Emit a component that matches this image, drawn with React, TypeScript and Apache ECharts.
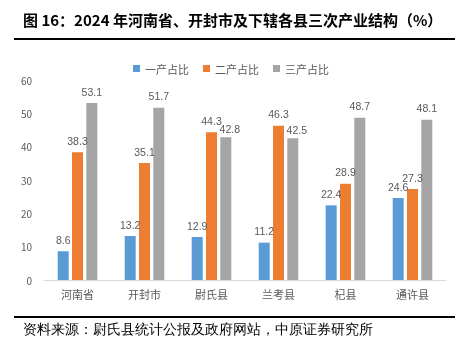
import React, { useEffect, useRef } from "react";
import * as echarts from "echarts";

const categories = ["河南省", "开封市", "尉氏县", "兰考县", "杞县", "通许县"];
const primary = [8.6, 13.2, 12.9, 11.2, 22.4, 24.6];
const secondary = [38.3, 35.1, 44.3, 46.3, 28.9, 27.3];
const tertiary = [53.1, 51.7, 42.8, 42.5, 48.7, 48.1];
const seriesNames = ["一产占比", "二产占比", "三产占比"];
const titleText = "图 16：2024 年河南省、开封市及下辖各县三次产业结构（%）";
const sourceText = "资料来源：尉氏县统计公报及政府网站，中原证券研究所";

export default function App() {
  const ref = useRef<HTMLDivElement>(null);
  useEffect(() => {
    const chart = echarts.init(ref.current!, null, { renderer: "svg" });
    const label = {
      show: true,
      position: "top",
      color: "#595959",
      fontSize: 10.5,
      fontFamily: "Liberation Sans",
      distance: 6,
    };
    const mk = (name: string, data: any[], color: string) => ({
      name,
      type: "bar",
      data,
      barWidth: 11,
      barGap: "30%",
      itemStyle: { color },
      label,
    });
    // Excel nudges crowded labels: shift tertiary labels right where they meet the secondary ones
    const tertiaryItems = tertiary.map((v, i) =>
      Math.abs(v - secondary[i]) < 6
        ? { value: v, label: { offset: [4, 3] } }
        : v
    );
    chart.setOption({
      animation: false,
      textStyle: { fontFamily: "Noto Sans CJK SC" },
      legend: {
        data: seriesNames,
        top: 58,
        left: "center",
        itemWidth: 7,
        itemHeight: 7,
        itemGap: 14,
        icon: "rect",
        textStyle: { color: "#595959", fontSize: 11, fontFamily: "Noto Sans CJK SC" },
      },
      grid: { left: 44, right: 16, top: 80, bottom: 70, containLabel: false },
      xAxis: {
        type: "category",
        data: categories,
        axisLine: { lineStyle: { color: "#d9d9d9" } },
        axisTick: { show: false },
        axisLabel: { color: "#595959", fontSize: 11, margin: 8 },
      },
      yAxis: {
        type: "value",
        min: 0,
        max: 60,
        interval: 10,
        axisLine: { show: false },
        axisTick: { show: false },
        splitLine: { show: false },
        axisLabel: { color: "#595959", fontSize: 10, margin: 12 },
      },
      series: [
        mk(seriesNames[0], primary, "#5B9BD5"),
        mk(seriesNames[1], secondary, "#ED7D31"),
        mk(seriesNames[2], tertiaryItems, "#A5A5A5"),
      ],
      graphic: [
        {
          type: "text",
          left: 23,
          top: 12,
          style: {
            text: titleText,
            fontSize: 15,
            fontWeight: "bold",
            fill: "#000",
            fontFamily: "Noto Sans CJK SC",
          },
        },
        {
          type: "line",
          shape: { x1: 14, y1: 39, x2: 455, y2: 39 },
          style: { stroke: "#000", lineWidth: 2 },
        },
        {
          type: "line",
          shape: { x1: 14, y1: 317, x2: 455, y2: 317 },
          style: { stroke: "#000", lineWidth: 2 },
        },
        {
          type: "text",
          left: 23,
          top: 322,
          style: {
            text: sourceText,
            fontSize: 14,
            fill: "#000",
            fontFamily: "serif",
          },
        },
      ],
    });
    return () => chart.dispose();
  }, []);
  return (
    <div
      ref={ref}
      style={{ position: "fixed", left: 0, top: 0, width: 462, height: 350 }}
    />
  );
}
